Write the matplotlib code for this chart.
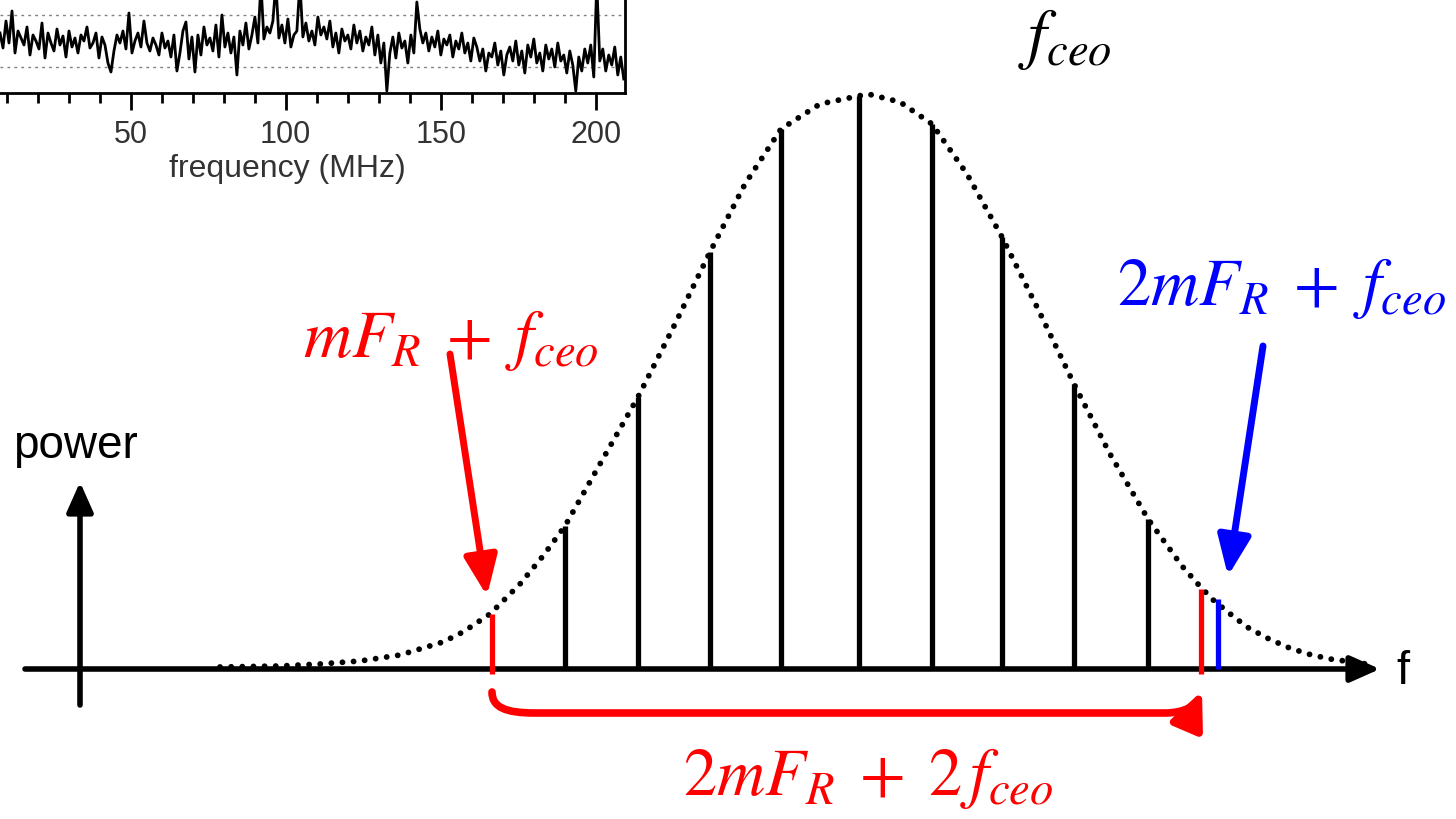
import numpy as np
import matplotlib
matplotlib.use("Agg")
import matplotlib.pyplot as plt
from matplotlib.patches import FancyArrowPatch
from matplotlib.path import Path

plt.rcParams["font.family"] = ["Liberation Sans", "DejaVu Sans"]
plt.rcParams["mathtext.fontset"] = "stix"

# comb teeth (frequency in a.u., power in a.u.)
comb_f = [565, 638, 710, 781, 859, 932, 1002, 1074, 1148]
comb_p = [143, 272, 417, 540, 573, 545, 432, 285, 150]
red_f = [492, 1201]
red_p = [55, 80]
blue_f = [1218]
blue_p = [70]

# dotted spectral envelope
env_f = [220, 280, 320, 360, 400, 443, 463, 490, 520, 543, 565, 600, 638, 675,
         710, 745, 781, 820, 868, 900, 932, 967, 1002, 1038, 1074, 1110, 1148,
         1182, 1197, 1212, 1229, 1247, 1267, 1287, 1308, 1330, 1352, 1374]
env_p = [2, 3, 5, 8, 14, 27, 37, 55, 85, 113, 143, 205, 272, 345,
         417, 485, 540, 565, 575, 567, 545, 495, 432, 360, 285, 215, 150,
         103, 86, 70, 56, 42, 31, 22, 15, 10, 7, 4]

# beat-note spectrum in the inset (a.u.)
noise_p = [
    60, 45, 72, 50, 82, 40, 62, 55, 48, 66,
    38, 58, 52, 44, 70, 35, 60, 50, 42, 64,
    48, 57, 36, 62, 46, 55, 40, 58, 52, 66,
    45, 50, 60, 35, 56, 48, 30, 21, 42, 58,
    50, 62, 44, 80, 40, 52, 60, 46, 72, 50,
    42, 55, 48, 38, 60, 45, 52, 36, 58, 22,
    40, 62, 71, 34, 56, 21, 58, 38, 66, 48,
    55, 42, 68, 36, 78, 46, 60, 40, 56, 18,
    62, 48, 70, 44, 58, 76, 50, 110, 54, 66,
    60, 72, 110, 55, 68, 50, 74, 46, 58, 62,
    110, 56, 70, 52, 62, 48, 76, 58, 66, 54,
    72, 46, 60, 40, 64, 52, 58, 44, 68, 50,
    62, 42, 56, 48, 66, 38, 58, 30, 50, 2,
    40, 56, 35, 60, 45, 52, 30, 58, 40, 91,
    64, 50, 60, 42, 56, 46, 62, 38, 54, 48,
    58, 36, 52, 44, 60, 40, 50, 32, 55, 46,
    32, 44, 22, 40, 36, 50, 28, 42, 18, 38,
    46, 32, 52, 28, 42, 20, 48, 36, 54, 30,
    40, 22, 48, 34, 44, 26, 50, 32, 38, 20,
    42, 28, 2, 36, 22, 44, 30, 48, 16, 110,
    32, 44, 22, 38, 28, 46, 18, 36, 14,
]
noise_f = np.linspace(7.8, 209.1, len(noise_p))
inset_ticks = [50, 100, 150, 200]

fig = plt.figure(figsize=(14.56, 8.2), dpi=100)

# main schematic
ax = fig.add_axes([0, 0, 1, 1])
ax.set_xlim(0, 1456)
ax.set_ylim(-150, 670)
ax.axis("off")

ax.vlines(comb_f, 0, comb_p, color="black", lw=3.8, zorder=3)
ax.vlines(red_f, -5, red_p, color="red", lw=3.8, zorder=5)
ax.vlines(blue_f, 0, blue_p, color="blue", lw=3.8, zorder=5)
ax.plot(env_f, env_p, color="black", lw=4.2, linestyle=(0, (0.01, 1.9)),
        dash_capstyle="round", zorder=4)

axis_arrow = dict(arrowstyle="-|>,head_length=0.9,head_width=0.4", lw=4,
                  color="black", mutation_scale=20, shrinkA=0, shrinkB=0)
ax.annotate("", xy=(1380, 0), xytext=(25, 0), arrowprops=axis_arrow)
ax.annotate("", xy=(80, 187), xytext=(80, -36), arrowprops=axis_arrow)
ax.text(1403, -2, "f", fontsize=34, ha="center", va="center")
ax.text(75, 224, "power", fontsize=33, ha="center", va="center")

# pointers
ax.annotate("", xy=(487, 73), xytext=(450, 315),
            arrowprops=dict(arrowstyle="-|>,head_length=1.2,head_width=0.5",
                            lw=5, color="red", mutation_scale=20,
                            shrinkA=0, shrinkB=0))
ax.annotate("", xy=(1228, 93), xytext=(1263, 323),
            arrowprops=dict(arrowstyle="-|>,head_length=1.2,head_width=0.5",
                            lw=5, color="blue", mutation_scale=20,
                            shrinkA=0, shrinkB=0))

# f - 2f bracket
verts = [(492, -23), (492, -38), (505, -44), (535, -44),
         (1165, -44), (1185, -44), (1196, -36), (1202, -22)]
codes = [Path.MOVETO, Path.CURVE4, Path.CURVE4, Path.CURVE4,
         Path.LINETO, Path.CURVE4, Path.CURVE4, Path.CURVE4]
bracket = FancyArrowPatch(path=Path(verts, codes),
                          arrowstyle="-|>,head_length=1.1,head_width=0.5",
                          mutation_scale=20, lw=5.5, color="red")
ax.add_patch(bracket)

ax.text(451, 313, r"$mF_R\;+\;f_{ceo}$", color="red", fontsize=48,
        ha="center", va="baseline")
ax.text(1281, 365, r"$2mF_R\;+\;f_{ceo}$", color="blue", fontsize=48,
        ha="center", va="baseline")
ax.text(1065, 614, r"$f_{ceo}$", color="black", fontsize=48,
        ha="center", va="baseline")
ax.text(868, -125, r"$2mF_R\;+\;2\,f_{ceo}$", color="red", fontsize=48,
        ha="center", va="baseline")

# inset spectrum, cut off at the top-left corner
axi = fig.add_axes([0, 1 - 94 / 820, 625 / 1456, 94 / 820])
axi.plot(noise_f, noise_p, color="black", lw=2.0)
axi.set_xlim(7.8, 209.5)
axi.set_ylim(0, 94)
axi.spines["top"].set_visible(False)
axi.spines["left"].set_visible(False)
axi.spines["bottom"].set_linewidth(2)
axi.spines["right"].set_linewidth(2)
axi.set_yticks([26, 78])
axi.tick_params(axis="y", length=0, labelleft=False)
axi.yaxis.grid(True, linestyle=(0, (2, 3)), color="gray", lw=1)
axi.set_xticks(inset_ticks)
axi.set_xticks(np.arange(10, 210, 10), minor=True)
axi.tick_params(axis="x", which="major", length=12, width=2, direction="out",
                labelsize=22, labelcolor="#333333", pad=7)
axi.tick_params(axis="x", which="minor", length=7, width=2, direction="out")
axi.set_xlabel("frequency (MHz)", fontsize=23, color="#333333")
axi.xaxis.set_label_coords(0.46, -0.64)
axi.patch.set_alpha(0)

fig.savefig("out.png", dpi=100)
